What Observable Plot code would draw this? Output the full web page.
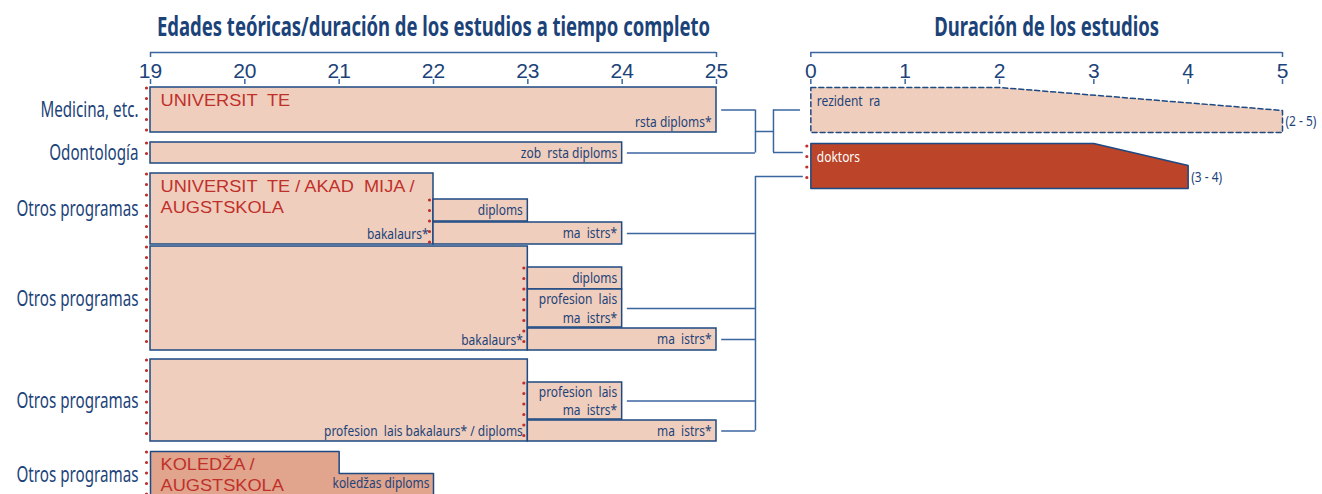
<!DOCTYPE html>
<html><head><meta charset="utf-8">
<script src="https://cdn.jsdelivr.net/npm/d3@7"></script>
<script src="https://cdn.jsdelivr.net/npm/@observablehq/plot@0.6"></script>
<style>
body{margin:0;background:#fff;}
svg text{white-space:pre;}
</style></head><body><div id="chart"></div>
<script>
// ---------- DATA ----------
const leftTitle = "Edades teóricas/duración de los estudios a tiempo completo";
const rightTitle = "Duración de los estudios";
const ageTicks = [19, 20, 21, 22, 23, 24, 25];
const durationTicks = [0, 1, 2, 3, 4, 5];

const rowLabels = ["Medicina, etc.", "Odontología", "Otros programas", "Otros programas", "Otros programas", "Otros programas"];
const firstStart = [19, 19, 19, 19, 19, 19];
const firstEnd = [25, 24, 22, 23, 23, 21];
const firstQual = ["rsta diploms*", "zob  rsta diploms", "bakalaurs*", "bakalaurs*", "profesion  lais bakalaurs* / diploms", ""];
const institutions = ["UNIVERSIT  TE", "", "UNIVERSIT  TE / AKAD  MIJA /\nAUGSTSKOLA", "", "", "KOLEDŽA /\nAUGSTSKOLA"];

const secondRow = [2, 2, 3, 3, 3, 4, 4, 5];
const secondStart = [22, 22, 23, 23, 23, 23, 23, 21];
const secondEnd = [23, 24, 24, 24, 25, 24, 25, 22];
const secondQual = ["diploms", "ma  istrs*", "diploms", "profesion  lais\nma  istrs*", "ma  istrs*", "profesion  lais\nma  istrs*", "ma  istrs*", "koledžas diploms"];
const secondToDoctor = [false, true, false, true, true, true, true, false];

const thirdLabels = ["rezident  ra", "doktors"];
const thirdMin = [2, 3];
const thirdMax = [5, 4];

// ---------- LAYOUT / STYLE ----------
const RIGHT0 = 26;            // age-axis position where the duration axis starts
const GAP = 0.055;            // gap between bar end and connector
const J1 = 25.413, J2 = 25.604, ENTRY_RES = 25.89, ENTRY_DOC = 25.92;
const rowTop = [87, 142, 173, 246, 359, 451];
const rowBottom = [132, 163, 244, 350, 441, 497];
const secondTop = [199, 222, 267, 289, 328, 382, 420, 473];
const secondBottom = [221, 244, 289, 327, 350, 419, 441, 497];
const thirdTop = [87, 143], thirdSlope = [110, 165], thirdBottom = [132, 188];
const docEntryY = [152, 176];
const INST_LINE = 21, QUAL_LINE = 18.5;
const C = {text: "#1c4379", stroke: "#1d4a82", line: "#3a65a0", red: "#c0302b",
  fill: "#f0cebd", dark: "#e1a48c", doc: "#bb4429"};
const NARROW = "'Noto Sans','Open Sans',sans-serif";
const SANS = "'Liberation Sans',Arial,sans-serif";

// ---------- DERIVED TABLES ----------
const rows = rowLabels.map((label, i) => ({label, start: firstStart[i], end: firstEnd[i], qual: firstQual[i],
  inst: institutions[i], top: rowTop[i], bottom: rowBottom[i], mid: (rowTop[i] + rowBottom[i]) / 2}));
const seconds = secondRow.map((r, i) => ({row: r, start: secondStart[i], end: secondEnd[i], qual: secondQual[i],
  top: secondTop[i], bottom: secondBottom[i], mid: (secondTop[i] + secondBottom[i]) / 2, doc: secondToDoctor[i]}));
const thirds = thirdLabels.map((label, i) => ({label, min: thirdMin[i], max: thirdMax[i],
  top: thirdTop[i], slope: thirdSlope[i], bottom: thirdBottom[i]}));

// one text datum per printed line
const instLines = rows.filter(d => d.inst).flatMap(d => d.inst.split("\n").map((t, k) =>
  ({x: d.start, y: d.top + 13.5 + k * INST_LINE, text: t})));
const secondLines = seconds.slice(0, 7).flatMap(d => {
  const ls = d.qual.split("\n");
  return ls.map((t, k) => ({x: d.end, y: d.mid + (k - (ls.length - 1) / 2) * QUAL_LINE, text: t}));
});

const kolRow = rows[5], kolNext = seconds[7];
const stdRows = rows.slice(0, 5), stdSeconds = seconds.slice(0, 7);
const kolOutline = [
  [kolRow.start, kolRow.top], [kolRow.end, kolRow.top], [kolRow.end, kolNext.top],
  [kolNext.end, kolNext.top], [kolNext.end, kolNext.bottom], [kolRow.start, kolRow.bottom], [kolRow.start, kolRow.top]
];
const polyOf = t => [[RIGHT0, t.top], [RIGHT0 + t.min, t.top], [RIGHT0 + t.max, t.slope],
  [RIGHT0 + t.max, t.bottom], [RIGHT0, t.bottom], [RIGHT0, t.top]];

const dotted = [
  ...rows.map(r => ({x: r.start, y1: r.top + 1, y2: r.bottom})),
  ...[2, 3, 4].map(ri => {
    const s = seconds.filter(d => d.row === ri);
    return {x: rows[ri].end, y1: d3.min(s, d => d.top) + 1, y2: d3.max(s, d => d.bottom)};
  }),
  {x: RIGHT0, y1: thirds[1].top + 3, y2: thirds[1].bottom}
];

const hLines = [
  {x1: rows[0].end + GAP, x2: J1, y: rows[0].mid},
  {x1: rows[1].end + GAP, x2: J1, y: rows[1].mid},
  {x1: J1, x2: J2, y: (rows[0].mid + rows[1].mid) / 2},
  {x1: J2, x2: ENTRY_RES, y: rows[0].mid},
  {x1: J2, x2: ENTRY_DOC, y: docEntryY[0]},
  {x1: J1, x2: ENTRY_DOC, y: docEntryY[1]},
  ...seconds.filter(d => d.doc).map(d => ({x1: d.end + GAP, x2: J1, y: d.mid}))
];
const docLinked = seconds.filter(d => d.doc);
const vLines = [
  {x: J1, y1: rows[0].mid, y2: rows[1].mid},
  {x: J2, y1: rows[0].mid, y2: docEntryY[0]},
  {x: J1, y1: docEntryY[1], y2: d3.max(docLinked, d => d.mid)}
];

const axes = [{x1: ageTicks[0], x2: ageTicks[ageTicks.length - 1]},
  {x1: RIGHT0 + durationTicks[0], x2: RIGHT0 + durationTicks[durationTicks.length - 1]}];
const tickPos = [...ageTicks.map(t => ({x: t, label: String(t)})), ...durationTicks.map(t => ({x: RIGHT0 + t, label: String(t)}))];

const small = {fontFamily: NARROW, fontSize: 15, fill: C.text, className: "cs"};

const chart = Plot.plot({
  width: 1322, height: 494, margin: 0,
  style: {background: "#fff", fontFamily: SANS},
  x: {domain: [19, 31], range: [150, 1282], axis: null},
  y: {type: "identity", axis: null},
  marks: [
    Plot.text([leftTitle], {x: (axes[0].x1 + axes[0].x2) / 2, y: 27, text: d => d,
      fontFamily: NARROW, fontWeight: "bold", fontSize: 26, fill: C.text, className: "ct"}),
    Plot.text([rightTitle], {x: (axes[1].x1 + axes[1].x2) / 2, y: 27, text: d => d,
      fontFamily: NARROW, fontWeight: "bold", fontSize: 26, fill: C.text, className: "ct"}),
    Plot.ruleY(axes, {x1: "x1", x2: "x2", y: 52, stroke: C.line, strokeWidth: 1.5}),
    Plot.ruleX(axes.flatMap(a => [a.x1, a.x2]), {x: d => d, y1: 52, y2: 57, stroke: C.line, strokeWidth: 1.5}),
    Plot.ruleX(tickPos, {x: "x", y1: 79, y2: 84, stroke: C.line, strokeWidth: 1.5}),
    Plot.text(tickPos, {x: "x", y: 71, text: "label", fontSize: 21, fill: C.text, fontFamily: SANS}),
    Plot.text(rows, {x: "start", y: "mid", text: "label", textAnchor: "end", dx: -12,
      fontFamily: NARROW, fontSize: 22, fill: C.text, className: "cl"}),
    Plot.rect(stdRows, {x1: "start", x2: "end", y1: "top", y2: "bottom", fill: C.fill, stroke: C.stroke, strokeWidth: 1.5}),
    Plot.rect(stdSeconds, {x1: "start", x2: "end", y1: "top", y2: "bottom", fill: C.fill, stroke: C.stroke, strokeWidth: 1.5}),
    Plot.line(kolOutline, {x: d => d[0], y: d => d[1], fill: C.dark, stroke: C.stroke, strokeWidth: 1.5}),
    Plot.line(polyOf(thirds[0]), {x: d => d[0], y: d => d[1], fill: C.fill, stroke: C.stroke, strokeWidth: 1.5, strokeDasharray: "5,3"}),
    Plot.line(polyOf(thirds[1]), {x: d => d[0], y: d => d[1], fill: C.doc, stroke: C.stroke, strokeWidth: 1.5}),
    Plot.text(stdRows.filter(d => d.qual), {x: "end", y: d => d.bottom - 10.5, text: "qual", textAnchor: "end", dx: -5, ...small}),
    Plot.text(secondLines, {x: "x", y: "y", text: "text", textAnchor: "end", dx: -5, ...small}),
    Plot.text([kolNext], {x: "end", y: d => d.bottom - 14, text: "qual", textAnchor: "end", dx: -4, ...small}),
    Plot.text(instLines, {x: "x", y: "y", text: "text", textAnchor: "start", dx: 10,
      fontFamily: SANS, fontSize: 17, fill: C.red, className: "ci"}),
    Plot.text(thirds, {x: RIGHT0, y: d => d.top + 14, text: "label", textAnchor: "start", dx: 6,
      ...small, fill: (d, i) => i === 1 ? "#fff" : C.text}),
    Plot.text(thirds, {x: d => RIGHT0 + d.max, y: d => (d.slope + d.bottom) / 2, text: d => `(${d.min} - ${d.max})`,
      textAnchor: "start", dx: 3, ...small}),
    Plot.ruleY(hLines, {x1: "x1", x2: "x2", y: "y", stroke: C.line, strokeWidth: 1.5}),
    Plot.ruleX(vLines, {x: "x", y1: "y1", y2: "y2", stroke: C.line, strokeWidth: 1.5}),
    Plot.ruleX(dotted, {x: "x", y1: "y1", y2: "y2", dx: -4, stroke: C.red, strokeWidth: 3.2,
      strokeDasharray: "0,10.5", strokeLinecap: "round"})
  ]
});
document.getElementById("chart").append(chart);

// condense humanist sans to the narrow look of the original (width calibrated on one reference string per class)
function condense(cls, ref, target) {
  const parts = [...chart.querySelectorAll(`.${cls} text`)];
  const refEl = parts.find(p => p.textContent === ref);
  if (!refEl) return;
  const f = target / refEl.getComputedTextLength();
  parts.forEach(p => {
    const w = p.getComputedTextLength();
    p.setAttribute("textLength", (w * f).toFixed(1));
    p.setAttribute("lengthAdjust", "spacingAndGlyphs");
  });
}
condense("ct", leftTitle, 553);
condense("cl", "Otros programas", 122);
condense("cs", "koledžas diploms", 97);
condense("ci", "KOLEDŽA /", 94);
</script></body></html>
